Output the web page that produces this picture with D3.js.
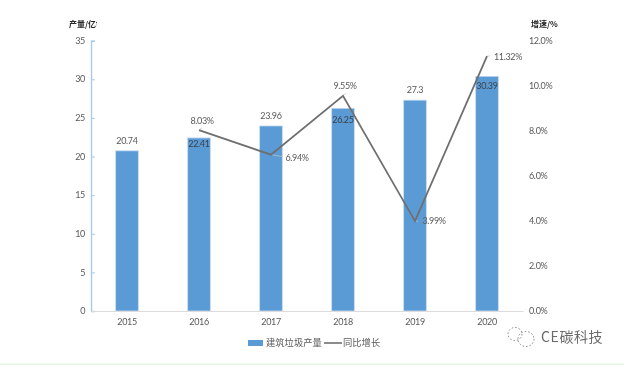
<!DOCTYPE html>
<html>
<head>
<meta charset="utf-8">
<script src="https://cdn.jsdelivr.net/npm/d3@7"></script>
<style>
  html, body { margin: 0; padding: 0; background: #fff; }
  svg { display: block; filter: blur(0.35px); }
  text { font-family: Lato, "Noto Sans CJK SC", sans-serif; fill: #595959; }
  .num { letter-spacing: -0.35px; }
  .cjk { font-family: "Noto Sans CJK SC", sans-serif; }
</style>
</head>
<body>
<svg width="624" height="365"></svg>
<script>
const years = ['2015', '2016', '2017', '2018', '2019', '2020']
const output = [20.74, 22.41, 23.96, 26.25, 27.3, 30.39]
const growthYears = ['2016', '2017', '2018', '2019', '2020']
const growth = [8.03, 6.94, 9.55, 3.99, 11.32]
const leftTicks = [0, 5, 10, 15, 20, 25, 30, 35]
const rightTicks = [0, 2, 4, 6, 8, 10, 12]

// label nudges in px, relative to the mark they belong to
const barLabelDy = [-10, 6, -10, 12, -10, 10]
const lineLabelDx = [3, 26, 2, 19, 21]
const lineLabelDy = [-9, 3, -10, 0, 1]

const plotLeft = 91, plotRight = 523, plotTop = 40.7, plotBottom = 311
const svg = d3.select('svg')

const xScale = d3.scaleBand().domain(years).range([plotLeft, plotRight])
  .paddingInner(0.685).paddingOuter(0.3425)
const yLeft = d3.scaleLinear().domain([0, 35]).range([plotBottom, plotTop])
const yRight = d3.scaleLinear().domain([0, 12]).range([plotBottom, plotTop])
const cx = d => xScale(d) + xScale.bandwidth() / 2

svg.append('rect').attr('width', 624).attr('height', 365).attr('fill', '#fff')
svg.append('rect').attr('y', 363.5).attr('width', 624).attr('height', 1.5).attr('fill', '#e6f5e1')

// bars
svg.selectAll('rect.bar')
  .data(output)
  .enter()
  .append('rect')
  .attr('class', 'bar')
  .attr('x', (_, i) => xScale(years[i]))
  .attr('y', d => yLeft(d))
  .attr('width', xScale.bandwidth())
  .attr('height', d => plotBottom - yLeft(d))
  .attr('fill', '#5b9bd5')
  .attr('stroke', '#c5dcf0')
  .attr('stroke-width', 0.8)

// left axis
const axisLeft = d3.axisRight(yLeft).tickValues(leftTicks).tickSize(4).tickFormat('')
const gLeft = svg.append('g').attr('transform', `translate(${plotLeft}, 0)`).call(axisLeft)
gLeft.select('.domain').attr('stroke', '#a9cbe6').attr('stroke-width', 1.4)
gLeft.selectAll('.tick line').attr('stroke', '#a9cbe6')
svg.selectAll('text.left-tick')
  .data(leftTicks)
  .enter()
  .append('text')
  .attr('class', 'left-tick num')
  .attr('x', 85)
  .attr('y', d => yLeft(d))
  .attr('dy', '0.35em')
  .attr('text-anchor', 'end')
  .attr('font-size', 9)
  .text(d => d)

// bottom axis
const axisBottom = d3.axisBottom(xScale).tickSize(0).tickPadding(0)
const gBottom = svg.append('g').attr('transform', `translate(0, ${plotBottom})`).call(axisBottom)
gBottom.select('.domain').attr('stroke', '#dcdcdc')
gBottom.selectAll('text')
  .attr('class', 'num')
  .attr('y', 11)
  .attr('dy', '0.35em')
  .attr('font-size', 9)
  .attr('font-family', 'Lato')
  .attr('fill', '#595959')

// right axis, labels only
svg.selectAll('text.right-tick')
  .data(rightTicks)
  .enter()
  .append('text')
  .attr('class', 'right-tick num')
  .attr('x', 529)
  .attr('y', d => yRight(d))
  .attr('dy', '0.35em')
  .attr('font-size', 9)
  .text(d => d.toFixed(1) + '%')

// leader lines
svg.selectAll('line.leader')
  .data(growth)
  .enter()
  .append('line')
  .attr('class', 'leader')
  .attr('x1', (_, i) => cx(growthYears[i]))
  .attr('y1', d => yRight(d))
  .attr('x2', (d, i) => cx(growthYears[i]) + (i === 1 ? 12 : 3))
  .attr('y2', (d, i) => yRight(d) + (i === 1 ? 2 : i === 2 ? -3 : i === 0 ? -2 : 0))
  .attr('stroke', '#c4c4c4')
  .attr('stroke-width', 0.7)

// growth line
const growthLine = d3.line()
  .x((_, i) => cx(growthYears[i]))
  .y(d => yRight(d))
svg.append('path')
  .attr('d', growthLine(growth))
  .attr('fill', 'none')
  .attr('stroke', '#6f6f6f')
  .attr('stroke-width', 1.8)

// value labels
svg.selectAll('text.bar-label')
  .data(output)
  .enter()
  .append('text')
  .attr('class', 'bar-label num')
  .attr('x', (_, i) => cx(years[i]))
  .attr('y', (d, i) => yLeft(d) + barLabelDy[i])
  .attr('dy', '0.35em')
  .attr('text-anchor', 'middle')
  .attr('font-size', 9)
  .attr('style', (_, i) => barLabelDy[i] > 0 ? 'fill:#3b3f46' : null)
  .text(d => d)

svg.selectAll('text.line-label')
  .data(growth)
  .enter()
  .append('text')
  .attr('class', 'line-label num')
  .attr('x', (_, i) => cx(growthYears[i]) + lineLabelDx[i])
  .attr('y', (d, i) => yRight(d) + lineLabelDy[i])
  .attr('dy', '0.35em')
  .attr('text-anchor', 'middle')
  .attr('font-size', 9)
  .text(d => d.toFixed(2) + '%')

// axis titles
svg.append('clipPath').attr('id', 'titleClip')
  .append('rect').attr('x', 60).attr('y', 15).attr('width', 37).attr('height', 20)
svg.append('text')
  .attr('class', 'cjk')
  .attr('x', 69)
  .attr('y', 27)
  .attr('font-size', 8)
  .attr('font-weight', 700)
  .attr('clip-path', 'url(#titleClip)')
  .attr('style', 'fill:#262626')
  .text('产量/亿t')
svg.append('text')
  .attr('class', 'cjk')
  .attr('x', 531)
  .attr('y', 27)
  .attr('font-size', 8)
  .attr('font-weight', 700)
  .attr('style', 'fill:#262626')
  .text('增速/%')

// legend
svg.append('rect').attr('x', 248).attr('y', 340).attr('width', 15).attr('height', 6).attr('fill', '#5b9bd5')
svg.append('text').attr('class', 'cjk').attr('x', 266).attr('y', 343).attr('dy', '0.35em')
  .attr('font-size', 9.3).text('建筑垃圾产量')
svg.append('line').attr('x1', 324).attr('x2', 342).attr('y1', 343).attr('y2', 343)
  .attr('stroke', '#6f6f6f').attr('stroke-width', 1.6)
svg.append('text').attr('class', 'cjk').attr('x', 343).attr('y', 343).attr('dy', '0.35em')
  .attr('font-size', 9.3).text('同比增长')

// watermark
const mark = svg.append('g').attr('fill', 'none').attr('stroke', '#666').attr('stroke-width', 0.8).attr('stroke-dasharray', '1.5 2')
mark.append('ellipse').attr('cx', 515).attr('cy', 334).attr('rx', 7).attr('ry', 6.5)
mark.append('ellipse').attr('cx', 526).attr('cy', 339).attr('rx', 8).attr('ry', 7.5)
svg.append('text')
  .attr('class', 'cjk')
  .attr('x', 541)
  .attr('y', 337)
  .attr('dy', '0.35em')
  .attr('font-size', 14)
  .attr('letter-spacing', 0.6)
  .attr('style', 'fill:#6b6b6b')
  .text('CE碳科技')
</script>
</body>
</html>
